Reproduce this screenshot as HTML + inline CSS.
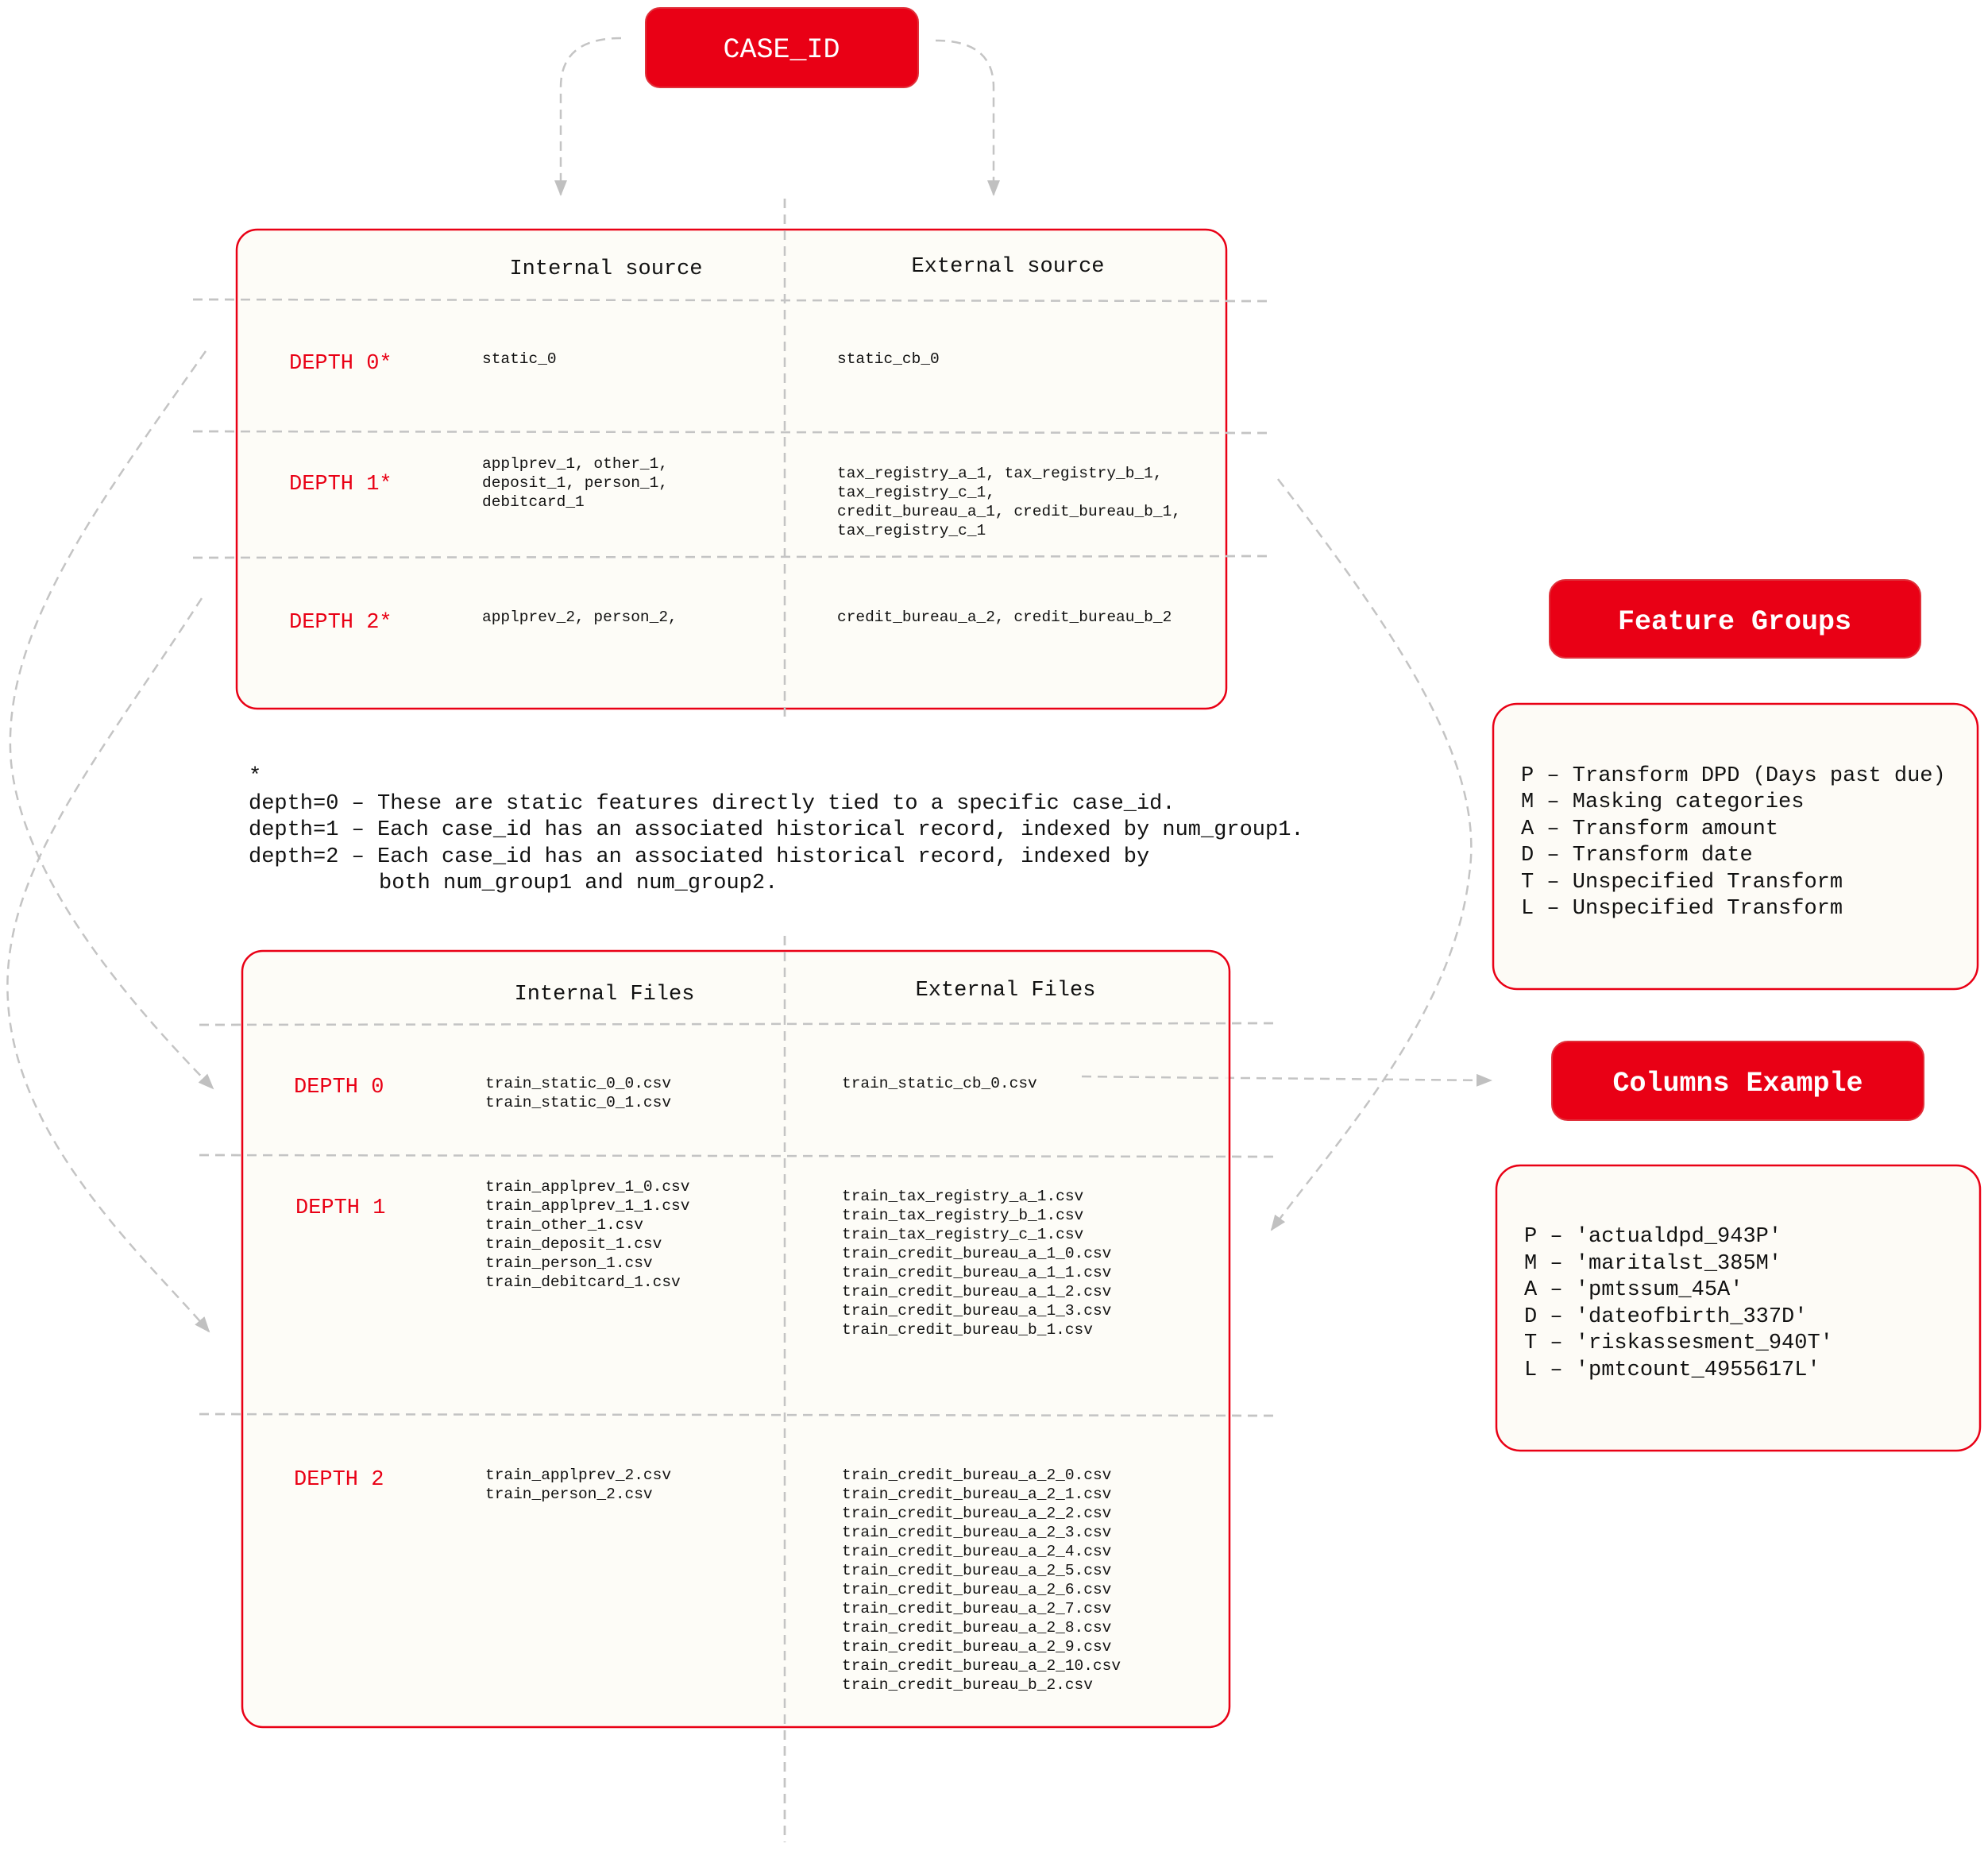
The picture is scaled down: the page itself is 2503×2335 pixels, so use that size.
<!DOCTYPE html>
<html><head><meta charset="utf-8"><style>
html,body{margin:0;padding:0;background:#fff;}
svg{display:block;}
text{font-family:"Liberation Mono",monospace;}
</style></head><body>
<svg width="2503" height="2335" viewBox="0 0 2503 2335" xmlns="http://www.w3.org/2000/svg">
<defs>
<marker id="ah" markerWidth="20" markerHeight="16" refX="18" refY="8" orient="auto" markerUnits="userSpaceOnUse" viewBox="0 0 20 16">
<path d="M0,0 L20,8 L0,16 z" fill="#c0c0c0"/>
</marker>
</defs>
<g fill="none" stroke="#c4c4c4" stroke-width="2.5" stroke-dasharray="12 8">
<path d="M782,48 Q706,48 706,110 L706,245" marker-end="url(#ah)"/>
<path d="M1178,51 Q1251,51 1251,110 L1251,245" marker-end="url(#ah)"/>
<path d="M988,250 L988,907"/>
<path d="M988,1178 L988,2319"/>
<path d="M243,377 L1596,379"/>
<path d="M243,543 L1596,545"/>
<path d="M243,702 L1596,700"/>
<path d="M251,1290 L1603,1288"/>
<path d="M251,1454 L1603,1456"/>
<path d="M251,1780 L1603,1782"/>
<path d="M259,442 C120,640 0,800 14,960 C30,1120 190,1290 268,1370" marker-end="url(#ah)"/>
<path d="M254,753 C120,960 0,1100 10,1260 C20,1440 190,1590 263,1676" marker-end="url(#ah)"/>
<path d="M1609,603 C1760,800 1870,960 1850,1100 C1830,1280 1680,1440 1601,1548" marker-end="url(#ah)"/>
<path d="M1362,1355 L1877,1360" marker-end="url(#ah)"/>
</g>

<rect x="813" y="10" width="343" height="100" rx="18" fill="#e90015" stroke="#e0303a" stroke-width="2"/>
<text x="984" y="72" text-anchor="middle" font-size="35" fill="#fff">CASE_ID</text>

<rect x="298" y="289" width="1246" height="603" rx="26" fill="#fdfbf6" fill-opacity="0.85" stroke="#e90015" stroke-width="2.5"/>
<path d="M988,250 L988,907" stroke="#c4c4c4" stroke-width="2.5" stroke-dasharray="12 8"/>
<path d="M243,377 L1596,379 M243,543 L1596,545 M243,702 L1596,700" stroke="#c4c4c4" stroke-width="2.5" stroke-dasharray="12 8"/>
<g font-size="27" fill="#111" text-anchor="middle">
<text x="763" y="345">Internal source</text>
<text x="1269" y="342">External source</text>
</g>
<g font-size="27" fill="#e90015">
<text x="364" y="464">DEPTH 0*</text>
<text x="364" y="616">DEPTH 1*</text>
<text x="364" y="790">DEPTH 2*</text>
</g>
<g font-size="19.5" fill="#111">
<text x="607" y="457">static_0</text>
<text x="1054" y="457">static_cb_0</text>
<text x="607" y="589">applprev_1, other_1,</text>
<text x="607" y="613">deposit_1, person_1,</text>
<text x="607" y="637">debitcard_1</text>
<text x="1054" y="601">tax_registry_a_1, tax_registry_b_1,</text>
<text x="1054" y="625">tax_registry_c_1,</text>
<text x="1054" y="649">credit_bureau_a_1, credit_bureau_b_1,</text>
<text x="1054" y="673">tax_registry_c_1</text>
<text x="607" y="782">applprev_2, person_2,</text>
<text x="1054" y="782">credit_bureau_a_2, credit_bureau_b_2</text>
</g>

<g font-size="27" fill="#111">
<text x="313" y="984">*</text>
<text x="313" y="1018">depth=0 – These are static features directly tied to a specific case_id.</text>
<text x="313" y="1051">depth=1 – Each case_id has an associated historical record, indexed by num_group1.</text>
<text x="313" y="1085">depth=2 – Each case_id has an associated historical record, indexed by</text>
<text x="477" y="1118">both num_group1 and num_group2.</text>
</g>

<rect x="305" y="1197" width="1243" height="977" rx="26" fill="#fdfbf6" fill-opacity="0.85" stroke="#e90015" stroke-width="2.5"/>
<path d="M988,1178 L988,2319" stroke="#c4c4c4" stroke-width="2.5" stroke-dasharray="12 8"/>
<path d="M251,1290 L1603,1288 M251,1454 L1603,1456 M251,1780 L1603,1782 M1362,1355 L1540,1357" stroke="#c4c4c4" stroke-width="2.5" stroke-dasharray="12 8"/>
<g font-size="27" fill="#111" text-anchor="middle">
<text x="761" y="1258">Internal Files</text>
<text x="1266" y="1253">External Files</text>
</g>
<g font-size="27" fill="#e90015">
<text x="370" y="1375">DEPTH 0</text>
<text x="372" y="1527">DEPTH 1</text>
<text x="370" y="1869">DEPTH 2</text>
</g>
<g font-size="19.5" fill="#111">
<text x="611" y="1369">train_static_0_0.csv</text>
<text x="611" y="1393">train_static_0_1.csv</text>
<text x="1060" y="1369">train_static_cb_0.csv</text>
<text x="611" y="1499">train_applprev_1_0.csv</text>
<text x="611" y="1523">train_applprev_1_1.csv</text>
<text x="611" y="1547">train_other_1.csv</text>
<text x="611" y="1571">train_deposit_1.csv</text>
<text x="611" y="1595">train_person_1.csv</text>
<text x="611" y="1619">train_debitcard_1.csv</text>
<text x="1060" y="1511">train_tax_registry_a_1.csv</text>
<text x="1060" y="1535">train_tax_registry_b_1.csv</text>
<text x="1060" y="1559">train_tax_registry_c_1.csv</text>
<text x="1060" y="1583">train_credit_bureau_a_1_0.csv</text>
<text x="1060" y="1607">train_credit_bureau_a_1_1.csv</text>
<text x="1060" y="1631">train_credit_bureau_a_1_2.csv</text>
<text x="1060" y="1655">train_credit_bureau_a_1_3.csv</text>
<text x="1060" y="1679">train_credit_bureau_b_1.csv</text>
<text x="611" y="1862">train_applprev_2.csv</text>
<text x="611" y="1886">train_person_2.csv</text>
<text x="1060" y="1862">train_credit_bureau_a_2_0.csv</text>
<text x="1060" y="1886">train_credit_bureau_a_2_1.csv</text>
<text x="1060" y="1910">train_credit_bureau_a_2_2.csv</text>
<text x="1060" y="1934">train_credit_bureau_a_2_3.csv</text>
<text x="1060" y="1958">train_credit_bureau_a_2_4.csv</text>
<text x="1060" y="1982">train_credit_bureau_a_2_5.csv</text>
<text x="1060" y="2006">train_credit_bureau_a_2_6.csv</text>
<text x="1060" y="2030">train_credit_bureau_a_2_7.csv</text>
<text x="1060" y="2054">train_credit_bureau_a_2_8.csv</text>
<text x="1060" y="2078">train_credit_bureau_a_2_9.csv</text>
<text x="1060" y="2102">train_credit_bureau_a_2_10.csv</text>
<text x="1060" y="2126">train_credit_bureau_b_2.csv</text>
</g>

<rect x="1951" y="730" width="467" height="98" rx="20" fill="#e90015" stroke="#e0303a" stroke-width="2"/>
<text x="2184" y="792" text-anchor="middle" font-size="35" font-weight="bold" fill="#fff">Feature Groups</text>
<rect x="1880" y="886" width="610" height="359" rx="30" fill="#fdfbf6" stroke="#e90015" stroke-width="2.5"/>
<g font-size="27" fill="#111">
<text x="1915" y="983">P – Transform DPD (Days past due)</text>
<text x="1915" y="1016">M – Masking categories</text>
<text x="1915" y="1050">A – Transform amount</text>
<text x="1915" y="1083">D – Transform date</text>
<text x="1915" y="1117">T – Unspecified Transform</text>
<text x="1915" y="1150">L – Unspecified Transform</text>
</g>

<rect x="1954" y="1311" width="468" height="99" rx="20" fill="#e90015" stroke="#e0303a" stroke-width="2"/>
<text x="2188" y="1373" text-anchor="middle" font-size="35" font-weight="bold" fill="#fff">Columns Example</text>
<rect x="1884" y="1467" width="609" height="359" rx="30" fill="#fdfbf6" stroke="#e90015" stroke-width="2.5"/>
<g font-size="27" fill="#111">
<text x="1919" y="1563">P – 'actualdpd_943P'</text>
<text x="1919" y="1597">M – 'maritalst_385M'</text>
<text x="1919" y="1630">A – 'pmtssum_45A'</text>
<text x="1919" y="1664">D – 'dateofbirth_337D'</text>
<text x="1919" y="1697">T – 'riskassesment_940T'</text>
<text x="1919" y="1731">L – 'pmtcount_4955617L'</text>
</g>
</svg>
</body></html>
